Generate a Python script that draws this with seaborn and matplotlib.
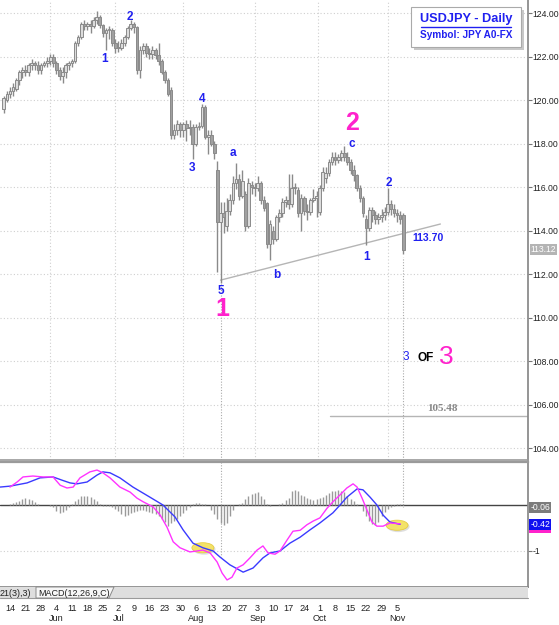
import numpy as np
import pandas as pd
import matplotlib
matplotlib.use("Agg")
import matplotlib.pyplot as plt
from matplotlib.patches import Rectangle, Ellipse, Polygon
from matplotlib.lines import Line2D
import seaborn as sns

# ---------------- data ----------------
dates = pd.bdate_range("2007-05-10", "2007-11-07")

opens = [119.6, 120.0, 120.3, 120.4, 120.5, 120.9, 121.3, 121.4, 121.3, 121.6,
         121.7, 121.6, 121.4, 121.6, 121.7, 121.8, 122.0, 121.7, 121.4, 121.1,
         121.3, 121.6, 121.7, 121.8, 122.6, 122.9, 123.5, 123.4, 123.5, 123.4,
         123.7, 123.8, 123.45, 123.1, 123.2, 123.2, 122.6, 122.4, 122.4, 122.6,
         122.9, 123.3, 123.5, 123.35, 121.4, 122.3, 122.5, 122.15, 122.1, 122.3,
         122.05, 121.8, 121.3, 120.9, 120.45, 118.4, 118.6, 118.9, 118.6, 118.9,
         118.7, 118.75, 118.0, 118.75, 118.8, 119.7, 118.3, 118.4, 118.0, 116.8,
         114.4, 114.8, 114.2, 114.9, 115.4, 116.2, 116.35, 115.6, 115.7, 114.2,
         116.1, 116.0, 115.95, 116.2, 115.4, 115.25, 113.4, 114.0, 113.6, 114.6,
         114.8, 115.3, 115.4, 115.2, 115.95, 115.85, 114.8, 115.5, 114.9, 114.85,
         115.4, 115.5, 114.85, 115.95, 116.4, 116.65, 117.15, 117.4, 117.25, 117.4,
         117.55, 117.4, 117.15, 116.8, 116.55, 115.95, 115.5, 114.55, 114.1, 114.95,
         114.7, 114.55, 114.6, 114.7, 114.85, 115.2, 115.0, 114.8, 114.7, 114.7]
highs = [120.2, 120.4, 120.6, 120.8, 121.0, 121.4, 121.5, 121.6, 121.7, 121.9,
         121.8, 121.8, 121.7, 121.8, 122.0, 122.1, 122.1, 121.8, 121.5, 121.5,
         121.7, 121.8, 121.9, 122.7, 123.0, 123.6, 123.7, 123.6, 123.7, 123.8,
         124.1, 123.9, 123.5, 123.3, 123.4, 123.3, 122.8, 122.7, 122.8, 123.0,
         123.4, 123.7, 123.6, 123.4, 122.5, 122.6, 122.6, 122.4, 122.5, 122.4,
         122.6, 121.9, 121.4, 121.0, 120.6, 118.9, 119.1, 119.0, 119.0, 119.1,
         119.1, 118.9, 118.9, 119.0, 119.8, 119.75, 118.6, 118.6, 118.1, 117.2,
         115.3, 115.3, 115.5, 115.7, 116.5, 117.1, 116.6, 116.8, 115.8, 116.4,
         116.3, 116.2, 116.5, 116.3, 115.6, 115.3, 114.5, 114.2, 114.7, 115.0,
         115.5, 115.6, 116.6, 116.6, 116.2, 116.0, 115.7, 115.6, 115.2, 115.5,
         115.9, 115.8, 116.1, 116.9, 116.9, 117.3, 117.6, 117.6, 117.5, 117.7,
         117.9, 117.6, 117.3, 117.0, 116.6, 116.1, 115.6, 114.7, 115.1, 115.1,
         114.9, 114.8, 115.0, 115.1, 115.95, 115.4, 115.2, 115.0, 114.9, 114.8]
lows = [119.4, 119.9, 120.1, 120.2, 120.4, 120.7, 121.0, 121.1, 121.1, 121.4,
        121.4, 121.2, 121.2, 121.5, 121.5, 121.6, 121.5, 121.2, 120.9, 120.8,
        121.0, 121.4, 121.5, 121.7, 122.5, 122.8, 123.2, 123.2, 123.1, 123.3,
        123.5, 123.3, 122.9, 122.3, 122.8, 122.5, 122.15, 122.2, 122.3, 122.5,
        122.8, 123.2, 123.1, 121.2, 121.0, 122.1, 122.0, 121.9, 121.9, 121.9,
        121.6, 121.2, 120.8, 120.2, 118.2, 118.2, 118.4, 118.3, 118.3, 118.1,
        118.4, 117.3, 117.9, 118.6, 118.7, 118.2, 117.5, 117.9, 117.3, 112.1,
        111.6, 113.9, 114.0, 114.7, 115.2, 115.9, 115.4, 115.5, 114.0, 114.1,
        115.7, 115.6, 115.8, 115.2, 114.9, 113.2, 112.65, 113.4, 113.5, 114.4,
        114.6, 115.1, 115.0, 115.1, 115.7, 114.6, 114.0, 114.7, 114.5, 114.7,
        115.3, 114.6, 114.7, 115.8, 116.2, 116.5, 117.0, 117.0, 117.1, 117.2,
        117.2, 117.0, 116.6, 116.3, 115.8, 115.3, 114.6, 113.35, 114.0, 114.4,
        114.3, 114.3, 114.4, 114.5, 114.7, 114.7, 114.6, 114.4, 114.3, 112.9]
closes = [120.1, 120.3, 120.4, 120.6, 120.9, 121.3, 121.4, 121.3, 121.6, 121.7,
          121.6, 121.4, 121.6, 121.7, 121.8, 122.0, 121.7, 121.4, 121.1, 121.3,
          121.6, 121.7, 121.8, 122.6, 122.9, 123.5, 123.4, 123.5, 123.4, 123.7,
          123.8, 123.45, 123.1, 123.2, 123.2, 122.6, 122.4, 122.4, 122.6, 122.9,
          123.3, 123.5, 123.35, 121.4, 122.3, 122.5, 122.15, 122.1, 122.3, 122.05,
          121.8, 121.3, 120.9, 120.3, 118.4, 118.6, 118.9, 118.6, 118.9, 118.7,
          118.75, 118.0, 118.75, 118.8, 119.7, 118.3, 118.4, 118.0, 117.55, 114.4,
          114.8, 114.6, 114.9, 115.4, 116.2, 116.35, 115.6, 116.3, 114.2, 116.2,
          116.0, 115.95, 116.2, 115.4, 115.05, 113.4, 114.3, 113.6, 114.6, 114.8,
          115.3, 115.4, 115.2, 115.95, 116.0, 114.8, 115.5, 114.9, 114.85, 115.4,
          115.5, 115.6, 115.95, 116.7, 116.65, 117.15, 117.4, 117.25, 117.4, 117.55,
          117.4, 117.15, 116.8, 116.55, 115.95, 115.5, 114.8, 114.1, 114.95, 114.7,
          114.55, 114.6, 114.7, 114.85, 115.2, 115.0, 114.8, 114.7, 114.55, 113.12]

# MACD fast line (magenta) and signal line (blue), read at bar positions
macd_pos = [2, 4.3, 6.2, 9.4, 12.7, 15.9, 18.2, 20.4, 22.4, 24.6, 27.8, 30.1, 32, 34.3,
            37.5, 40.8, 43, 45, 48.2, 50.5, 52.7, 54.7, 56.9, 60.1, 62.4, 64.3, 66.6,
            68.9, 70.5, 72.1, 73.7, 75.3, 77.3, 79.5, 81.8, 83.7, 85.3, 87.6, 89.2,
            91.5, 93.4, 95.7, 97.9, 99.9, 102.1, 104.4, 106.3, 108.6, 110.8, 112.8,
            114.1, 115.7, 117.3, 118.9, 120.5, 122.5, 124.7, 128]
macd_val = [0.39, 0.50, 0.61, 0.63, 0.61, 0.61, 0.43, 0.37, 0.39, 0.59, 0.72, 0.76, 0.70, 0.59,
            0.39, 0.28, 0.15, 0.07, -0.04, -0.22, -0.48, -0.80, -0.93, -1.02, -1.00, -0.98, -1.04,
            -1.24, -1.48, -1.63, -1.57, -1.37, -1.30, -1.15, -0.98, -0.89, -1.04, -1.07, -1.00,
            -0.76, -0.57, -0.55, -0.43, -0.35, -0.28, -0.07, 0.07, 0.22, 0.37, 0.46,
            0.39, 0.15, -0.11, -0.37, -0.46, -0.46, -0.39, -0.41]
signal_pos = [-1.2, 2, 7.5, 11.7, 15.9, 18.8, 21.4, 23.6, 26.9, 30.1, 32, 34.3, 37.5, 41.7,
              47.2, 51.4, 55.3, 57.9, 61.1, 64.3, 67.6, 69.8, 73, 77.3, 80.5, 83.7, 86,
              89.2, 92.4, 95.7, 98.9, 102.1, 106.3, 108.6, 110.8, 114.1, 116, 118.3, 120.5,
              122.5, 124.7, 128]
signal_val = [0.39, 0.41, 0.48, 0.59, 0.61, 0.54, 0.48, 0.46, 0.50, 0.65, 0.72, 0.70, 0.59, 0.39,
              0.17, 0.0, -0.26, -0.54, -0.83, -0.93, -1.00, -1.13, -1.30, -1.46, -1.37, -1.15, -1.04,
              -1.00, -0.83, -0.70, -0.54, -0.39, -0.17, 0.0, 0.17, 0.35, 0.33, 0.17, 0.0,
              -0.22, -0.37, -0.42]
hist = [0.0, 0.01, 0.02, 0.04, 0.06, 0.09, 0.12, 0.15, 0.14, 0.10,
        0.06, 0.03, 0.01, 0.0, 0.0, -0.02, -0.05, -0.12, -0.17, -0.16,
        -0.10, -0.05, 0.02, 0.08, 0.14, 0.20, 0.20, 0.20, 0.18, 0.12,
        0.08, 0.02, -0.02, -0.03, -0.02, -0.04, -0.08, -0.12, -0.20, -0.25,
        -0.22, -0.18, -0.15, -0.12, -0.10, -0.10, -0.12, -0.15, -0.18, -0.20,
        -0.25, -0.30, -0.38, -0.45, -0.40, -0.35, -0.30, -0.25, -0.18, -0.10,
        -0.05, 0.02, 0.04, 0.04, 0.03, 0.02, 0.0, -0.10, -0.20, -0.30,
        -0.40, -0.43, -0.40, -0.25, -0.10, 0.0, 0.02, 0.05, 0.12, 0.20,
        0.24, 0.26, 0.28, 0.20, 0.12, 0.02, -0.02, 0.0, 0.01, 0.02,
        0.05, 0.10, 0.15, 0.30, 0.33, 0.30, 0.22, 0.20, 0.15, 0.12,
        0.10, 0.12, 0.15, 0.18, 0.22, 0.26, 0.30, 0.30, 0.33, 0.30,
        0.28, 0.20, 0.12, 0.08, 0.03, 0.0, -0.12, -0.25, -0.35, -0.42,
        -0.43, -0.38, -0.25, -0.15, -0.08, -0.04, -0.02, 0.02, 0.03, 0.02]

price_ticks = [104, 106, 108, 110, 112, 114, 116, 118, 120, 122, 124]
last_price = 113.12
hist_last = -0.06
macd_last = -0.42
trend_x = [70, 141]
trend_y = [111.72, 114.30]
target_level = 105.48
breakout_level = "113.70"

# ---------------- style ----------------
sns.set_theme(style="white")
plt.rcParams["font.family"] = ["Liberation Sans", "DejaVu Sans"]

W, H = 559, 625
fig = plt.figure(figsize=(W / 100, H / 100), dpi=100)
fig.patch.set_facecolor("white")

def fx(px):
    return px / W

def fy(py):
    return 1 - py / H

ax = fig.add_axes([0, fy(460), fx(528), 460 / H])
ax2 = fig.add_axes([0, fy(587), fx(528), 125 / H])

idx = np.arange(len(closes))
xlim = (-1.23, 169.3)

BLUE = "#2020f0"
MAG = "#ff22cc"
GRID = "#cfcfcf"
TICKFS = 6.2

# ---------------- price panel ----------------
ax.set_xlim(*xlim)
ax.set_ylim(103.45, 124.6)
for v in price_ticks:
    ax.axhline(v, color=GRID, lw=0.8, ls=(0, (1, 2)), zorder=0)
month_grid = [15, 36, 58, 81, 101.5, 124]
for g in month_grid:
    ax.axvline(g, color=GRID, lw=0.8, ls=(0, (1, 2)), zorder=0)

o = np.array(opens); c = np.array(closes); h = np.array(highs); l = np.array(lows)
ax.vlines(idx, l, h, color="#8a8a8a", lw=1.0, zorder=2)
up = c >= o
body_lo = np.minimum(o, c)
body_h = np.maximum(np.abs(c - o), 0.05)
ax.bar(idx[up], body_h[up], bottom=body_lo[up], width=0.88, color="#dcdcdc",
       edgecolor="#8a8a8a", linewidth=0.7, zorder=3)
ax.bar(idx[~up], body_h[~up], bottom=body_lo[~up], width=0.88, color="#a0a0a0",
       edgecolor="#8a8a8a", linewidth=0.7, zorder=3)

# trendline and target line
ax.plot(trend_x, trend_y, color="#b5b5b5", lw=1.0, zorder=1)
ax.plot([105.4, xlim[1]], [target_level, target_level], color="#b5b5b5", lw=1.0, zorder=1)
ax.plot([70, 70], [103.45, 111.72], color="#aaaaaa", lw=0.8, ls=(0, (1, 1.5)), zorder=1)
ax.plot([129, 129], [103.45, 112.8], color="#aaaaaa", lw=0.8, ls=(0, (1, 1.5)), zorder=1)

# wave labels
fb = dict(fontweight="bold", ha="center", va="center")
for (xi, yv, t) in [(32.4, 121.88, "1"), (40.8, 123.82, "2"), (64.0, 120.05, "4"),
                    (60.8, 116.87, "3"), (74.0, 117.56, "a"), (70.2, 111.22, "5"),
                    (88.2, 111.95, "b"), (112.5, 118.0, "c"), (124.4, 116.18, "2"),
                    (117.3, 112.78, "1")]:
    ax.text(xi, yv, t, color=BLUE, fontsize=8.5, **fb)
ax.text(70.5, 110.39, "1", color=MAG, fontsize=18, **fb)
ax.text(112.5, 118.95, "2", color=MAG, fontsize=18, **fb)
ax.text(131.8, 113.68, breakout_level, color=BLUE, fontsize=7.5, fontweight="bold",
        ha="left", va="center")
ax.text(129.9, 108.2, "3", color=BLUE, fontsize=8.5, ha="center", va="center")
ax.text(136.2, 108.15, "OF", color="black", fontsize=8.5, fontweight="bold", ha="center", va="center")
ax.text(142.8, 108.2, "3", color=MAG, fontsize=19, ha="center", va="center")
ax.text(141.5, 105.8, f"{target_level:.2f}", color="#888888", fontsize=8, fontweight="bold",
        family="Liberation Serif", ha="center", va="center")

# right axis
ax.yaxis.tick_right()
ax.set_yticks(price_ticks)
ax.set_yticklabels([f"{v:.2f}" for v in price_ticks])
ax.tick_params(axis="y", right=True, length=3, width=0.8, color="#777777",
               labelsize=TICKFS, pad=0.5, labelcolor="#222222")
ax.set_xticks([])
for s in ["left", "top"]:
    ax.spines[s].set_visible(False)
ax.spines["right"].set_color("#888888")
ax.spines["bottom"].set_color("#9a9a9a")
ax.spines["bottom"].set_linewidth(1.2)
ax.text(1.005, last_price, f"{last_price:.2f}", transform=ax.get_yaxis_transform(),
        fontsize=TICKFS, color="white", ha="left", va="center",
        bbox=dict(boxstyle="square,pad=0.1", fc="#b4b4b4", ec="none"))

# ---------------- MACD panel ----------------
ax2.set_xlim(*xlim)
ax2.set_ylim(-1.783, 0.935)
ax2.axhline(-1, color=GRID, lw=0.8, ls=(0, (1, 2)), zorder=0)
ax2.axhline(0, color="#444444", lw=1.0, zorder=1)
ax2.vlines(idx, 0, hist, color="#9a9a9a", lw=1.0, zorder=2)
ax2.plot([70, 70], [0.935, -1.12], color="#aaaaaa", lw=0.8, ls=(0, (1, 1.5)), zorder=1)
ax2.plot([129, 129], [0.935, -0.05], color="#aaaaaa", lw=0.8, ls=(0, (1, 1.5)), zorder=1)

for (cx, cy) in [(64.3, -0.93), (127.0, -0.44)]:
    ax2.add_patch(Ellipse((cx + 0.4, cy - 0.03), 7.3, 0.24, fc="#c8c8c8", ec="none",
                          alpha=0.6, zorder=2.5))
    ax2.add_patch(Ellipse((cx, cy), 7.1, 0.22, fc="#f6e35c", ec="#e4c93a", lw=0.6,
                          alpha=0.9, zorder=3))

sig_df = pd.DataFrame({"pos": signal_pos, "val": signal_val})
macd_df = pd.DataFrame({"pos": macd_pos, "val": macd_val})
sns.lineplot(data=sig_df, x="pos", y="val", ax=ax2, color="#3a3aff", lw=1.0,
             sort=False, estimator=None, zorder=4)
sns.lineplot(data=macd_df, x="pos", y="val", ax=ax2, color="#ff33ff", lw=1.0,
             sort=False, estimator=None, zorder=4)
ax2.set_xlabel("")
ax2.set_ylabel("")
ax2.yaxis.tick_right()
ax2.set_yticks([-1])
ax2.set_yticklabels(["-1"])
ax2.tick_params(axis="y", right=True, length=3, width=0.8, color="#777777",
                labelsize=TICKFS, pad=0.5, labelcolor="#222222")
ax2.set_xticks([])
ax2.spines["left"].set_visible(False)
ax2.spines["top"].set_color("#9a9a9a")
ax2.spines["top"].set_linewidth(1.6)
ax2.spines["right"].set_color("#888888")
ax2.spines["bottom"].set_color("#888888")
ax2.text(1.004, hist_last, f"{hist_last:.2f}", transform=ax2.get_yaxis_transform(),
         fontsize=TICKFS, color="white", ha="left", va="center",
         bbox=dict(boxstyle="square,pad=0.12", fc="#7c7c7c", ec="none"))
# magenta strip under the MACD value box
fig.patches.append(Rectangle((fx(529), fy(533)), 22 / W, 3 / H, transform=fig.transFigure,
                             fc=MAG, ec="none", zorder=3))
ax2.text(1.004, macd_last, f"{macd_last:.2f}", transform=ax2.get_yaxis_transform(),
         fontsize=TICKFS, color="white", ha="left", va="center",
         bbox=dict(boxstyle="square,pad=0.12", fc="#1010f0", ec="none"))

# ---------------- date axis ----------------
mondays = [i for i, d in enumerate(dates) if d.dayofweek == 0]
for i in mondays:
    ax2.text(i, -0.17, str(dates[i].day), transform=ax2.get_xaxis_transform(),
             fontsize=6.6, color="#222222", ha="center", va="center")
seen = {dates[0].month}
for i in mondays:
    m = dates[i].month
    if m not in seen:
        seen.add(m)
        ax2.text(i, -0.255, dates[i].strftime("%b"), transform=ax2.get_xaxis_transform(),
                 fontsize=6.6, color="#222222", ha="center", va="center")

# ---------------- indicator tab bar ----------------
fig.patches.append(Rectangle((0, fy(598)), fx(528), 11 / H, transform=fig.transFigure,
                             fc="#dedede", ec="none", zorder=1))
fig.lines.append(Line2D([0, fx(528)], [fy(598), fy(598)], transform=fig.transFigure,
                        color="#9a9a9a", lw=0.8))
fig.patches.append(Polygon([[fx(36), fy(587)], [fx(114), fy(587)], [fx(109), fy(598)],
                            [fx(36), fy(598)]], closed=True, transform=fig.transFigure,
                           fc="#f7f7f7", ec="#8a8a8a", lw=0.7, zorder=2))
fig.text(fx(0), fy(593), "21(3),3)", fontsize=6.5, color="#222222", ha="left", va="center")
fig.text(fx(38), fy(593), "MACD(12,26,9,C)", fontsize=6.5, color="#222222", ha="left", va="center")

# ---------------- title box ----------------
fig.patches.append(Rectangle((fx(414), fy(50)), 110 / W, 40 / H, transform=fig.transFigure,
                             fc="#c8c8c8", ec="none", zorder=5))
fig.patches.append(Rectangle((fx(411), fy(47)), 110 / W, 40 / H, transform=fig.transFigure,
                             fc="white", ec="#aaaaaa", lw=0.8, zorder=6))
fig.text(fx(466), fy(19), "USDJPY - Daily", fontsize=9.2, fontweight="bold", color=BLUE,
         ha="center", va="center", zorder=7)
fig.lines.append(Line2D([fx(421), fx(511)], [fy(27), fy(27)], transform=fig.transFigure,
                        color=BLUE, lw=1.0, zorder=7))
fig.text(fx(466), fy(35), "Symbol: JPY A0-FX", fontsize=7.2, fontweight="bold", color=BLUE,
         ha="center", va="center", zorder=7)

fig.savefig("out.png", dpi=100)
